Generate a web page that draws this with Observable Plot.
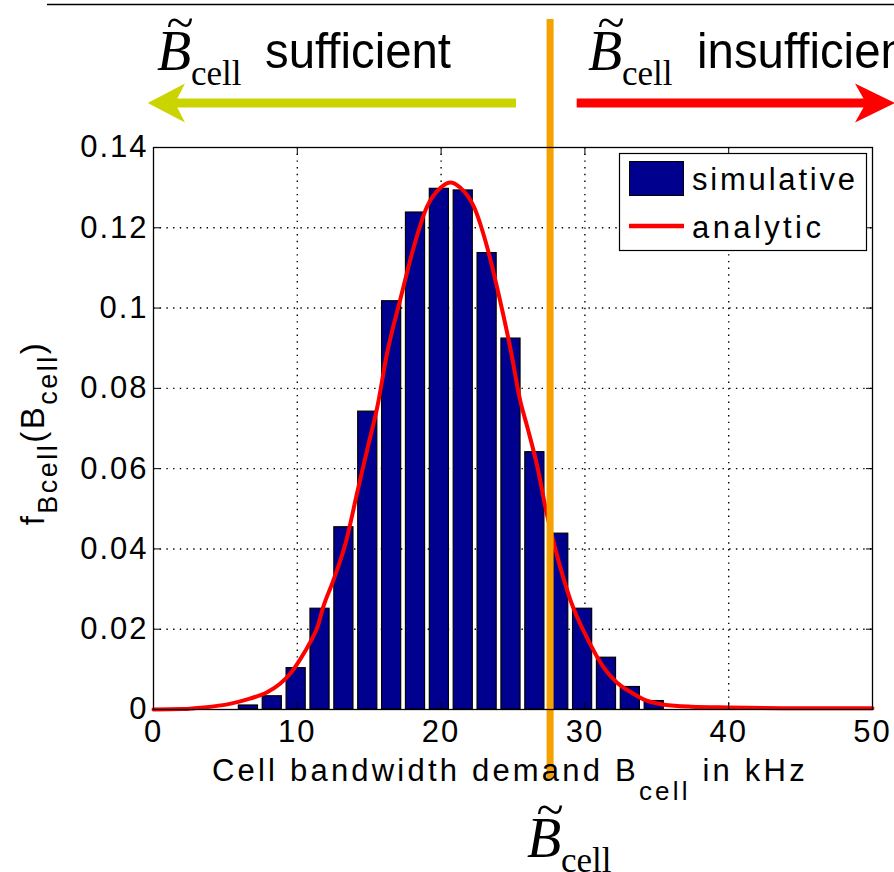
<!DOCTYPE html>
<html><head><meta charset="utf-8">
<script src="https://cdn.jsdelivr.net/npm/d3@7"></script>
<script src="https://cdn.jsdelivr.net/npm/@observablehq/plot@0.6"></script>
<style>
html,body{margin:0;padding:0;background:#fff;overflow:hidden}
#chart svg{display:block}
</style></head><body><div id="chart"></div>
<script>
// ---- data ----
const binCenters = [6.6, 8.26, 9.92, 11.58, 13.24, 14.9, 16.56, 18.22, 19.88, 21.54, 23.2, 24.86, 26.52, 28.18, 29.84, 31.5, 33.16, 34.82];
const simulative = [0.001, 0.0033, 0.0103, 0.0251, 0.0454, 0.0742, 0.1017, 0.1238, 0.1297, 0.1293, 0.1137, 0.0924, 0.0641, 0.0438, 0.0251, 0.0129, 0.0056, 0.0021];
const analyticX = [0, 2, 3.5, 5.3, 6.7, 7.9, 8.8, 9.5, 10.2, 10.9, 11.4, 11.8, 12.5, 13.4, 14.2, 14.9, 15.6, 16.2, 17.2, 18.1, 19.0, 20.0, 20.65, 21.3, 22.3, 23.2, 24.1, 24.8, 25.5, 26.0, 26.7, 27.3, 28.1, 29.0, 30.3, 31.3, 32.2, 33.2, 34.3, 35.5, 37.4, 40, 45, 50];
const analyticY = [0, 0.0001, 0.0005, 0.0014, 0.0027, 0.0043, 0.0064, 0.0089, 0.0125, 0.0168, 0.0205, 0.0255, 0.0321, 0.042, 0.0546, 0.0653, 0.076, 0.088, 0.1027, 0.1152, 0.1251, 0.1301, 0.1313, 0.1301, 0.1251, 0.1152, 0.1019, 0.0903, 0.077, 0.0703, 0.0604, 0.0496, 0.0379, 0.0272, 0.0168, 0.0105, 0.0068, 0.0043, 0.0022, 0.0012, 0.0007, 0.0005, 0.0003, 0.0003];
const threshold = 27.58;
const xTicks = [0, 10, 20, 30, 40, 50];
const yTicks = [0, 0.02, 0.04, 0.06, 0.08, 0.1, 0.12, 0.14];
const yTickLabels = ["0", "0.02", "0.04", "0.06", "0.08", "0.1", "0.12", "0.14"];
const legendLabels = ["simulative", "analytic"];
const xLabelParts = ["Cell bandwidth demand B", "cell", " in kHz"];
const yLabelParts = ["f", "Bcell", "(B", "cell", ")"];
const annotLeft = "sufficient";
const annotRight = "insufficient";

// ---- derived tables ----
const binWidth = (binCenters[binCenters.length - 1] - binCenters[0]) / (binCenters.length - 1);
const bars = binCenters.map((c, i) => ({x1: c - 0.4 * binWidth, x2: c + 0.4 * binWidth, p: simulative[i]}));
const curve = analyticX.map((x, i) => ({x, y: analyticY[i]}));

const W = 894, H = 872, ML = 153, MR = 22, MT = 147, MB = 163;
const NAVY = "#00008f", ORANGE = "#f5a200", RED = "#ff0000", LIME = "#cbd400";
const sans = "'Liberation Sans', Arial, Helvetica, sans-serif";
const serif = "'Liberation Serif', 'Times New Roman', serif";
const pxPerUnitY = (H - MT - MB) / 0.14;
const yAtPx = px => (H - MB - px) / pxPerUnitY; // for the threshold rule extent beyond the frame

const tickFmt = d => yTickLabels[yTicks.indexOf(d)];

const plot = Plot.plot({
  width: W, height: H,
  marginLeft: ML, marginRight: MR, marginTop: MT, marginBottom: MB,
  x: {domain: [0, 50]},
  y: {domain: [0, 0.14]},
  style: {fontFamily: sans, fontSize: "31px", color: "black", background: "white"},
  marks: [
    Plot.gridX(xTicks.slice(1, -1), {stroke: "black", strokeOpacity: 1, strokeWidth: 1.4, strokeDasharray: "1.4,5.3"}),
    Plot.gridY(yTicks.slice(1, -1), {stroke: "black", strokeOpacity: 1, strokeWidth: 1.4, strokeDasharray: "1.4,5.3"}),
    Plot.rectY(bars, {x1: "x1", x2: "x2", y: "p", fill: NAVY, stroke: "black", strokeWidth: 1.2}),
    Plot.line(curve, {x: "x", y: "y", stroke: RED, strokeWidth: 4, curve: "monotone-x"}),
    Plot.ruleX([threshold], {y1: yAtPx(19), y2: yAtPx(779), stroke: ORANGE, strokeWidth: 7}),
    Plot.frame({stroke: "black", strokeWidth: 1.3}),
    // inward tick marks on all four sides
    Plot.axisX(xTicks, {anchor: "bottom", tickSize: 7, dy: -7, tickFormat: () => "", label: null}),
    Plot.axisX(xTicks, {anchor: "top", tickSize: 7, dy: 7, tickFormat: () => "", label: null}),
    Plot.axisY(yTicks, {anchor: "left", tickSize: 7, dx: 7, tickFormat: () => "", label: null}),
    Plot.axisY(yTicks, {anchor: "right", tickSize: 7, dx: -7, tickFormat: () => "", label: null}),
    // tick labels
    Plot.axisX(xTicks, {anchor: "bottom", tickSize: 0, tickPadding: 10, fontSize: 31, label: null, tickFormat: d => String(d)}),
    Plot.axisY(yTicks, {anchor: "left", tickSize: 0, tickPadding: 5, fontSize: 31, label: null, tickFormat: tickFmt})
  ]
});

document.getElementById("chart").appendChild(plot);
const root = d3.select(plot);
root.selectAll('g[aria-label="y-axis tick label"] text, g[aria-label="x-axis tick label"] text')
  .attr("letter-spacing", 2);
const svg = root.append("g").attr("text-anchor", "start").attr("font-family", sans).attr("fill", "black");

// x label
const xl = svg.append("text").attr("x", 212).attr("y", 781)
  .attr("font-size", 31).attr("letter-spacing", 3.2);
xl.append("tspan").text(xLabelParts[0]);
xl.append("tspan").attr("dy", 19).attr("font-size", 26).text(xLabelParts[1]);
xl.append("tspan").attr("dy", -19).text(xLabelParts[2]);

// y label (rotated)
const yl = svg.append("text").attr("transform", "translate(44,433) rotate(-90)")
  .attr("text-anchor", "middle").attr("font-size", 33).attr("letter-spacing", 2.5);
yl.append("tspan").text(yLabelParts[0]);
yl.append("tspan").attr("dy", 13).attr("font-size", 27).text(yLabelParts[1]);
yl.append("tspan").attr("dy", -13).text(yLabelParts[2]);
yl.append("tspan").attr("dy", 13).attr("font-size", 27).text(yLabelParts[3]);
yl.append("tspan").attr("dy", -13).text(yLabelParts[4]);

// legend
const lg = svg.append("g");
lg.append("rect").attr("x", 619.5).attr("y", 153.5).attr("width", 247).attr("height", 97)
  .attr("fill", "white").attr("stroke", "black").attr("stroke-width", 1.2);
lg.append("rect").attr("x", 629.5).attr("y", 161.5).attr("width", 54).attr("height", 34)
  .attr("fill", NAVY).attr("stroke", "black").attr("stroke-width", 1);
lg.append("line").attr("x1", 629).attr("x2", 684).attr("y1", 226).attr("y2", 226)
  .attr("stroke", RED).attr("stroke-width", 4.5);
lg.append("text").attr("x", 692).attr("y", 190).attr("font-size", 31)
  .attr("letter-spacing", 2.8).text(legendLabels[0]);
lg.append("text").attr("x", 692).attr("y", 238).attr("font-size", 31)
  .attr("letter-spacing", 3.4).text(legendLabels[1]);

// top rule
svg.append("line").attr("x1", 47).attr("x2", W).attr("y1", 4.5).attr("y2", 4.5)
  .attr("stroke", "black").attr("stroke-width", 1.6);

// B-tilde-cell symbol
function bTilde(x, y) {
  const g = svg.append("g").attr("font-family", serif);
  g.append("text").attr("x", x).attr("y", y).attr("font-style", "italic")
    .attr("font-size", 56).text("B");
  g.append("text").attr("x", x + 23).attr("y", y - 31).attr("text-anchor", "middle")
    .attr("font-size", 50).text("~");
  g.append("text").attr("x", x + 34).attr("y", y + 15)
    .attr("font-size", 35).text("cell");
}
bTilde(157, 70);
bTilde(588, 70);
bTilde(527, 857);

svg.append("text").attr("x", 265).attr("y", 68).attr("font-size", 50)
  .attr("textLength", 186).attr("lengthAdjust", "spacingAndGlyphs").text(annotLeft);
svg.append("text").attr("x", 697).attr("y", 68).attr("font-size", 50)
  .attr("textLength", 223).attr("lengthAdjust", "spacingAndGlyphs").text(annotRight);

// arrows
svg.append("rect").attr("x", 174).attr("y", 98.5).attr("width", 342).attr("height", 9).attr("fill", LIME);
svg.append("path").attr("d", "M147.7,103 L185,83.5 L175,103 L185,122.5 Z").attr("fill", LIME);
svg.append("rect").attr("x", 576.7).attr("y", 98.5).attr("width", 292).attr("height", 9).attr("fill", RED);
svg.append("path").attr("d", "M895,103 L855,83.5 L866,103 L855,122.5 Z").attr("fill", RED);
</script></body></html>
